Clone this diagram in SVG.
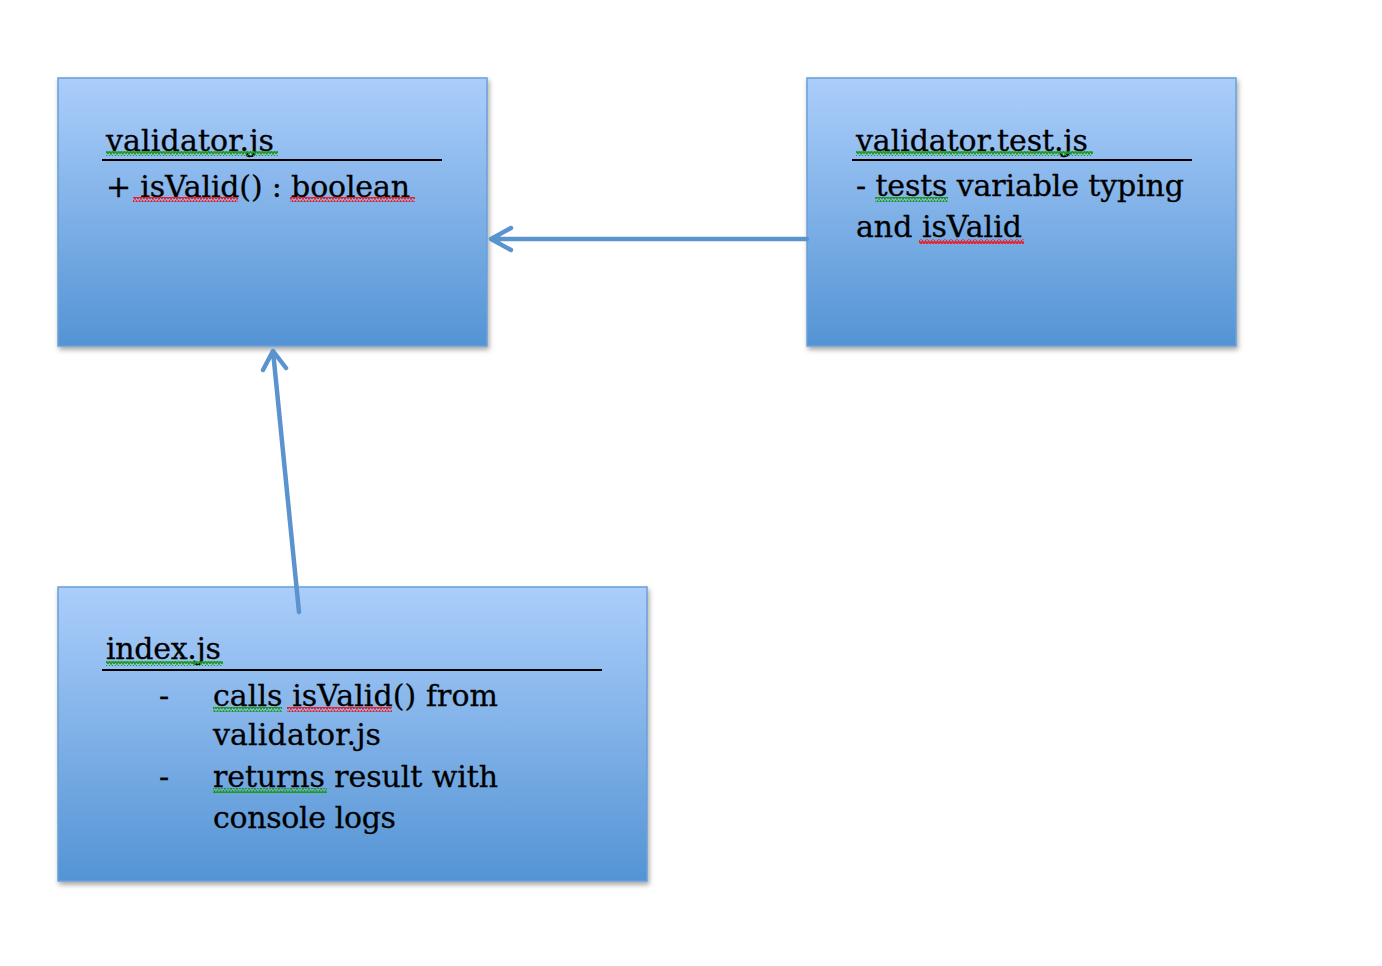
<svg xmlns="http://www.w3.org/2000/svg" width="1382" height="966" viewBox="0 0 1382 966">
<style>
  .box { fill: url(#g); stroke: #6a9fd9; stroke-width: 1.5; filter: url(#sh); }
  .t { font-family: "DejaVu Serif", "Liberation Serif", serif; font-size: 30px; fill: #000; stroke: #000; stroke-width: 0.3; }
  .rule { stroke: #000; stroke-width: 2; }
  .conn { stroke: #5b93cf; stroke-width: 4.5; fill: none; stroke-linecap: round; stroke-linejoin: round; }
</style>
<defs>
  <linearGradient id="g" x1="0" y1="0" x2="0" y2="1">
    <stop offset="0" stop-color="#abcefb"/>
    <stop offset="1" stop-color="#5494d4"/>
  </linearGradient>
  <filter id="sh" x="-5%" y="-5%" width="115%" height="120%">
    <feDropShadow dx="1.5" dy="3" stdDeviation="2.5" flood-color="#000" flood-opacity="0.35"/>
  </filter>
  <pattern id="wv" width="6" height="5" patternUnits="userSpaceOnUse">
    <path d="M0 4 L1.5 1 L3 4 L4.5 1 L6 4" fill="none" stroke="#1f9a1f" stroke-width="1.5"/>
  </pattern>
  <pattern id="wr" width="6" height="5" patternUnits="userSpaceOnUse">
    <path d="M0 4 L1.5 1 L3 4 L4.5 1 L6 4" fill="none" stroke="#e8202a" stroke-width="1.5"/>
  </pattern>
</defs>
<rect width="1382" height="966" fill="#fff"/>

<g id="node-validator">
  <rect class="box" x="58" y="78" width="429" height="268"/>
  <text class="t" x="106" y="151" textLength="168">validator.js</text>
  <line class="rule" x1="102" y1="160" x2="442" y2="160"/>
  <text class="t" x="106" y="197" textLength="304">+ isValid() : boolean</text>
  <rect x="106" y="151" width="172" height="5" fill="url(#wv)"/>
  <rect x="133" y="197" width="105" height="5" fill="url(#wr)"/>
  <rect x="290" y="197" width="125" height="5" fill="url(#wr)"/>
</g>

<g id="node-validator-test">
  <rect class="box" x="807" y="78" width="429" height="268"/>
  <text class="t" x="856" y="151" textLength="232">validator.test.js</text>
  <line class="rule" x1="852" y1="160" x2="1192" y2="160"/>
  <text class="t" x="856" y="196" textLength="328">- tests variable typing</text>
  <text class="t" x="856" y="237" textLength="166">and isValid</text>
  <rect x="856" y="151" width="237" height="5" fill="url(#wv)"/>
  <rect x="875" y="197" width="73" height="5" fill="url(#wv)"/>
  <rect x="919" y="239" width="105" height="5" fill="url(#wr)"/>
</g>

<g id="node-index">
  <rect class="box" x="58" y="587" width="589" height="294"/>
  <text class="t" x="106" y="659" textLength="115">index.js</text>
  <line class="rule" x1="102" y1="670" x2="602" y2="670"/>
  <text class="t" x="159" y="706">-</text>
  <text class="t" x="213" y="706" textLength="285">calls isValid() from</text>
  <text class="t" x="213" y="745" textLength="168">validator.js</text>
  <text class="t" x="159" y="787">-</text>
  <text class="t" x="213" y="787" textLength="285">returns result with</text>
  <text class="t" x="213" y="828" textLength="183">console logs</text>
  <rect x="106" y="661" width="117" height="5" fill="url(#wv)"/>
  <rect x="213" y="707" width="69" height="5" fill="url(#wv)"/>
  <rect x="287" y="707" width="105" height="5" fill="url(#wr)"/>
  <rect x="213" y="788" width="114" height="5" fill="url(#wv)"/>
</g>

<g id="connectors">
  <path class="conn" d="M807 239 L491 239 M511 228 L491 239 L511 250"/>
  <path class="conn" d="M299 612 L273 351 M263 370 L273 351 L286 368"/>
</g>
</svg>
